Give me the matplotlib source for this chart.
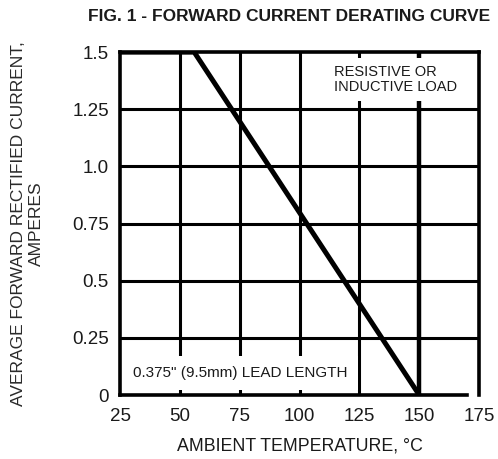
import matplotlib
matplotlib.use("Agg")
import matplotlib.pyplot as plt

# Derating curve data
temp_c = [25, 56, 150]
current_a = [1.5, 1.5, 0.0]

x_ticks = [25, 50, 75, 100, 125, 150, 175]
y_ticks = [0, 0.25, 0.5, 0.75, 1.0, 1.25, 1.5]
y_tick_labels = ["0", "0.25", "0.5", "0.75", "1.0", "1.25", "1.5"]

plt.rcParams['font.family'] = ['Liberation Sans', 'DejaVu Sans']
txt = '#1a1a1a'

fig = plt.figure(figsize=(4.98, 4.59), dpi=100)
ax = fig.add_axes([0.241, 0.1394, 0.721, 0.747])

ax.set_xlim(25, 175)
ax.set_ylim(0, 1.5)
ax.set_xticks(x_ticks)
ax.set_yticks(y_ticks)
ax.set_yticklabels(y_tick_labels)
ax.tick_params(length=0, labelsize=13.5, labelcolor=txt)
ax.tick_params(axis='x', pad=9)
ax.tick_params(axis='y', pad=8)

# Grid
for x in x_ticks[1:-1]:
    ax.axvline(x, color='black', lw=3.2 if x == 150 else 2.2, zorder=1)
for y in y_ticks[1:-1]:
    ax.axhline(y, color='black', lw=2.2, zorder=1)

for s in ax.spines.values():
    s.set_linewidth(2.6)
ax.spines['bottom'].set_bounds(25, 170)

ax.plot(temp_c, current_a, color='black', lw=3.6, zorder=3,
        solid_capstyle='butt')

ax.text(114.5, 1.38, "RESISTIVE OR\nINDUCTIVE LOAD", fontsize=10.5, color=txt,
        ha='left', va='center', linespacing=1.15, zorder=2,
        bbox=dict(boxstyle='square,pad=0.45', fc='white', ec='none'))
ax.text(30.5, 0.097, '0.375" (9.5mm) LEAD LENGTH', fontsize=11, color=txt,
        ha='left', va='center', zorder=2,
        bbox=dict(boxstyle='square,pad=0.65', fc='white', ec='none'))

ax.set_xlabel("AMBIENT TEMPERATURE, \u00b0C", fontsize=12.8, color=txt,
              labelpad=9)
ax.set_ylabel("AVERAGE FORWARD RECTIFIED CURRENT,\nAMPERES", fontsize=12.5,
              color='#2a2a2a', linespacing=1.25, labelpad=20)

fig.text(0.58, 0.963, "FIG. 1 - FORWARD CURRENT DERATING CURVE",
         fontsize=12.5, fontweight='bold', color=txt, ha='center', va='center')

fig.savefig("out.png", dpi=100)
